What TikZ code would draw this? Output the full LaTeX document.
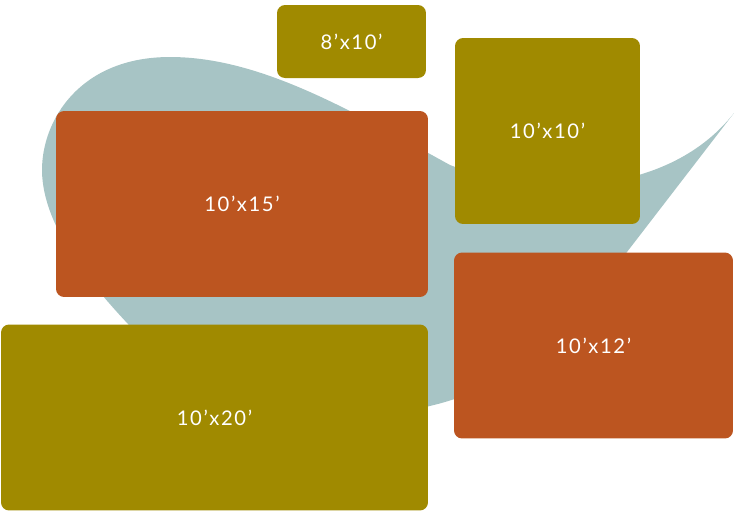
\documentclass[tikz,border=0pt]{standalone}
\usepackage{fontspec}
\setmainfont{Lato}[LetterSpace=8]
\usepackage{xcolor}
\usepackage{tikz}
\usetikzlibrary{positioning}

\definecolor{blobteal}{HTML}{A7C4C5}
\definecolor{rugolive}{HTML}{A08A00}
\definecolor{rugrust}{HTML}{BC5520}

\tikzset{
  rug/.style={rectangle, rounded corners=0.16cm, inner sep=0pt, outer sep=0pt,
    text=white, font=\fontsize{11.5}{13}\selectfont}
}

\begin{document}
\begin{tikzpicture}[x=0.02cm, y=-0.02cm]
\useasboundingbox (0,0) rectangle (734,515);
% background leaf shape
\fill[blobteal] (42,170)
  .. controls (42,120) and (80,57) .. (170,57)
  .. controls (260,57) and (350,110) .. (450,165)
  .. controls (540,200) and (670,195) .. (734,113)
  -- (627,252)
  .. controls (570,330) and (520,380) .. (445,402)
  .. controls (330,436) and (190,390) .. (128,324)
  .. controls (100,294) and (42,230) .. (42,170) -- cycle;
% unit sizes
\foreach \name/\cx/\cy/\w/\h/\col/\lbl in {
    eightten/351.5/41.5/2.98/1.46/rugolive/8’x10’,
    tenten/547.5/131/3.70/3.72/rugolive/10’x10’,
    tenfifteen/242/204/7.44/3.72/rugrust/10’x15’,
    tentwelve/593.5/345.5/5.58/3.72/rugrust/10’x12’,
    tentwenty/214.5/417.5/8.54/3.72/rugolive/10’x20’} {
    \node[rug, fill=\col, minimum width=\w cm, minimum height=\h cm]
      (\name) at (\cx,\cy) {\lbl};
}
\end{tikzpicture}
\end{document}
